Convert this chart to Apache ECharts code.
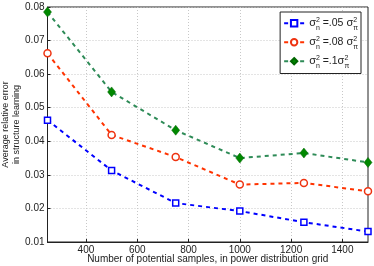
<!DOCTYPE html>
<html><head><meta charset="utf-8">
<script src="https://cdn.jsdelivr.net/npm/echarts@6/dist/echarts.min.js"></script>
<style>html,body{margin:0;padding:0;background:#fff}#c{width:374px;height:266px}</style>
</head><body><div id="c"></div>
<script>
const samples = [250, 500, 750, 1000, 1250, 1500];
const err05 = [0.0463, 0.0313, 0.0216, 0.0192, 0.0159, 0.0131];
const err08 = [0.0662, 0.0419, 0.0353, 0.0271, 0.0276, 0.0251];
const err10 = [0.0785, 0.0547, 0.0433, 0.0350, 0.0365, 0.0337];
const xTicks = [400, 600, 800, 1000, 1200, 1400];
const seriesNames = ['s05', 's08', 's10'];
const legendText = {
  s05: '{s|σ}{sub|n}{sup|2}{t| =.05 }{s|σ}{sub|π}{sup|2}',
  s08: '{s|σ}{sub|n}{sup|2}{t| =.08 }{s|σ}{sub|π}{sup|2}',
  s10: '{s|σ}{sub|n}{sup|2}{t| =.1}{s|σ}{sub|π}{sup|2}'
};
const font = 'Liberation Sans, Arial, sans-serif';
const chart = echarts.init(document.getElementById('c'));
function pair(arr){ return samples.map((x,i)=>[x,arr[i]]); }
chart.setOption({
  animation: false,
  backgroundColor: '#fff',
  grid: {left: 47.5, right: 6, top: 7, bottom: 24, outerBoundsMode: 'none', containLabel: false,
         show: true, borderColor: '#222', borderWidth: 1, backgroundColor: 'transparent'},
  xAxis: {
    type: 'value', min: 250, max: 1500,
    name: 'Number of potential samples, in power distribution grid',
    nameLocation: 'middle', nameGap: 17, nameMoveOverlap: false,
    nameTextStyle: {fontFamily: font, fontSize: 10, color: '#222', verticalAlign: 'middle'},
    axisLine: {show: true, lineStyle: {color: '#222'}},
    axisTick: {show: true, inside: true, length: 3, customValues: xTicks, lineStyle: {color: '#222'}},
    axisLabel: {customValues: xTicks, fontFamily: font, fontSize: 10, color: '#222', margin: 3, formatter: v => String(v)},
    splitLine: {show: true, lineStyle: {color: '#c8c8c8', type: [1, 2], width: 1}}
  },
  yAxis: {
    type: 'value', min: 0.01, max: 0.08, interval: 0.01,
    name: 'Average relative error\nin structure learning',
    nameLocation: 'middle', nameGap: 25.5, nameRotate: 90, nameMoveOverlap: false,
    nameTextStyle: {fontFamily: font, fontSize: 9, color: '#222', lineHeight: 11},
    axisLine: {show: true, lineStyle: {color: '#222'}},
    axisTick: {show: true, inside: true, length: 3, lineStyle: {color: '#222'}},
    axisLabel: {fontFamily: font, fontSize: 10, color: '#222', margin: 3, formatter: v => v.toFixed(2)},
    splitLine: {show: true, lineStyle: {color: '#c8c8c8', type: [1, 2], width: 1}}
  },
  legend: {
    orient: 'vertical', right: 13, top: 12,
    backgroundColor: '#fff', borderColor: '#222', borderWidth: 1, borderRadius: 0,
    padding: [2, 3, 3, 3], itemGap: 0.5, itemWidth: 20, itemHeight: 8,
    data: seriesNames,
    formatter: n => legendText[n],
    textStyle: {
      fontFamily: font, fontSize: 11, color: '#222', lineHeight: 18.5,
      rich: {
        s: {fontFamily: font, fontSize: 11, color: '#222', lineHeight: 18.5},
        sub: {fontFamily: font, fontSize: 7, color: '#222', width: 0, padding: [10, 0, 0, 0], verticalAlign: 'middle', lineHeight: 18.5},
        sup: {fontFamily: font, fontSize: 7, color: '#222', padding: [0, 0, 7, 0], verticalAlign: 'middle', lineHeight: 18.5},
        t: {fontFamily: font, fontSize: 10.5, color: '#222', lineHeight: 18.5}
      }
    }
  },
  series: [
    {name: 's05', type: 'line', data: pair(err05), symbol: 'rect', symbolSize: 6,
     lineStyle: {color: '#0000ff', width: 2, type: [4, 4]},
     itemStyle: {color: '#fff', borderColor: '#0000ff', borderWidth: 1.5}, z: 3},
    {name: 's08', type: 'line', data: pair(err08), symbol: 'circle', symbolSize: 7,
     lineStyle: {color: '#ff3300', width: 2, type: [4, 4]},
     itemStyle: {color: '#fff', borderColor: '#ee3311', borderWidth: 1.5}, z: 3},
    {name: 's10', type: 'line', data: pair(err10), symbol: 'diamond', symbolSize: [8, 10],
     lineStyle: {color: '#2e8b57', width: 2, type: [4, 4]},
     itemStyle: {color: '#008800', borderColor: '#006600', borderWidth: 0.5}, z: 3}
  ]
});
</script></body></html>
